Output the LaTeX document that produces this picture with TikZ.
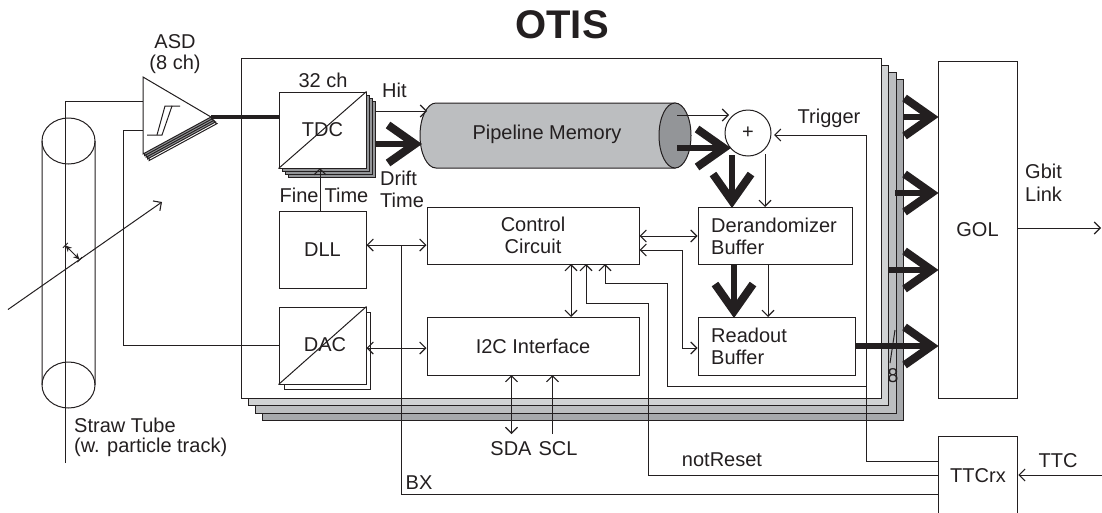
\documentclass[tikz,border=0pt]{standalone}
\usepackage{fontspec}
\setmainfont{Liberation Sans}
\usetikzlibrary{arrows.meta}
\definecolor{lineK}{HTML}{231F20}
\definecolor{layA}{HTML}{D1D3D4}
\definecolor{layB}{HTML}{BCBEC0}
\definecolor{layC}{HTML}{A7A9AC}
\definecolor{pipeG}{HTML}{BCBEC0}
\definecolor{pipeD}{HTML}{939598}
\tikzset{
  wire/.style={draw=lineK,line width=1pt},
  thin arr/.style={wire,-{Straight Barb[length=6pt,width=12pt,line width=1.1pt]}},
  both arr/.style={wire,{Straight Barb[length=6pt,width=12pt,line width=1.1pt]}-{Straight Barb[length=6pt,width=12pt,line width=1.1pt]}},
  bus/.style={draw=lineK,line width=6.5pt},
  bus arr/.style={bus,-{Straight Barb[length=27pt,width=38pt,line width=8pt,sep=-1pt]}},
  block/.style={draw=lineK,line width=1pt,fill=white,inner sep=0pt},
  txt/.style={text=lineK,font=\fontsize{20}{22}\selectfont},
  lab/.style={txt,inner sep=0pt},
  lay/.style={draw=lineK,line width=1pt}
}
\begin{document}
\begin{tikzpicture}[x=1pt,y=-1pt]
\useasboundingbox (0,0) rectangle (1102,512);
% board stack
\draw[lay,fill=layC] (262,79) rectangle (903,420);
\draw[lay,fill=layB] (255,72) rectangle (896,413);
\draw[lay,fill=layA] (248,65) rectangle (888,405.5);
\draw[lay,fill=white] (241,58) rectangle (881,398);
\node[font=\fontsize{40}{44}\bfseries\selectfont,text=lineK,inner sep=0pt] (title) at (562,25) {OTIS};
% straw tube
\draw[wire] (42,141) -- (42,385) arc[start angle=180,end angle=360,x radius=26.5pt,y radius=23pt] -- (95,141);
\draw[wire] (68.5,141) ellipse[x radius=26.5pt,y radius=23pt];
\draw[wire] (42,385) arc[start angle=180,end angle=0,x radius=26.5pt,y radius=23pt];
\coordinate (tt) at (65.5,101);
\coordinate (tb) at (65.5,463);
\coordinate (pa) at (8,309.5);
\coordinate (pb) at (162,202);
\draw[thin arr] (pa) -- (pb);
\coordinate (da) at (65,245);
\coordinate (db) at (80,260);
\draw[wire,{Bar[width=7pt]Stealth[length=6pt,width=6pt]}-{Stealth[length=6pt,width=6pt]Bar[width=7pt]}] (da) -- (db);
% ASD
\foreach \d/\c in {6/white,4.5/pipeD,3/pipeD,1.5/pipeD}{
  \draw[wire,fill=\c] (143+\d,154+\d*1.1) -- (211+\d,117+\d*1.1) -- (143+\d,77+\d) -- cycle;
}
\draw[wire,fill=white] (143,77) coordinate (asdtop) -- (211,117) coordinate (asdtip) -- (143,154) -- cycle;
\coordinate (asdi) at (143,101);
\coordinate (asdj) at (143,130);
\draw[wire] (147,135) -- (162,135) -- (172,106) -- (180,106);
\draw[wire] (157,135) -- (165,106) -- (172,106);
\node[lab] (asdl) at (175,42) {ASD};
\node[lab] (asdm) at (175,64) {(8 ch)};
\draw[wire] (tb) -- (tt) -- (asdi);
% TDC
\foreach \d/\c in {9/pipeD,6/pipeD,3/pipeD}{
  \draw[wire,fill=\c] (279+\d,92+\d) rectangle (366+\d,168+\d);
}
\node[block,minimum width=87pt,minimum height=76pt] (tdc) at (322.5,130) {};
\draw[wire] (tdc.south west) -- (tdc.north east);
\node[lab] at (tdc.center) {TDC};
\node[lab] (ch32) at (323,80) {32 ch};
\draw[line width=4.5pt,draw=lineK] (asdtip) -- (tdc.west |- asdtip);
% DAC
\draw[wire,fill=white] (284,312) rectangle (370.5,389);
\node[block,minimum width=87pt,minimum height=77pt] (dac) at (322.5,345.5) {};
\draw[wire] (dac.south west) -- (dac.north east);
\node[lab] at (325,345) {DAC};
\draw[wire] (asdj) -- (123,130) -- (123,345.5) -- (dac.west);
% DLL
\node[block,minimum width=87pt,minimum height=77pt,txt] (dll) at (322.5,250) {DLL};
\draw[thin arr] (320,211.5) -- (320,168);
% Pipeline
\path[draw=lineK,line width=1pt,fill=pipeG] (675,103) -- (436,103) arc[start angle=90,end angle=270,x radius=16pt,y radius=32.5pt] -- (675,168) -- cycle;
\draw[draw=lineK,line width=1pt,fill=pipeD] (675,135.5) ellipse[x radius=16pt,y radius=32.5pt];
\node[lab] (pipe) at (547,134) {Pipeline Memory};
\coordinate (pipel) at (421,144);
\node[draw=lineK,line width=1pt,fill=white,circle,minimum size=46pt,inner sep=0pt,txt] (add) at (748,133) {+};
% other blocks
\node[block,minimum width=212pt,minimum height=57pt,align=center,txt] (ctrl) at (533,235.5) {Control\\Circuit};
\node[block,minimum width=212pt,minimum height=58pt,txt] (i2c) at (533,346) {I2C Interface};
\node[block,minimum width=154pt,minimum height=57pt] (der) at (775,235.5) {};
\node[lab,anchor=west,align=left] at (711,236) {Derandomizer\\Buffer};
\node[block,minimum width=157pt,minimum height=58pt] (rd) at (776.5,346) {};
\node[lab,anchor=west,align=left] at (711,346) {Readout\\Buffer};
\node[block,minimum width=79pt,minimum height=337pt,txt] (gol) at (977.5,229.5) {GOL};
\node[block,minimum width=79.5pt,minimum height=80pt,txt] (ttc) at (978,476) {TTCrx};
% labels
\node[lab,anchor=west] (hit) at (382,90) {Hit};
\node[lab,anchor=west] (drift) at (380,178) {Drift};
\node[lab,anchor=west] (drift2) at (380,200) {Time};
\node[lab] (fine) at (324,195) {Fine\hspace{6pt}Time};
\node[lab] (trig) at (829,118) {Trigger};
\node[lab,anchor=west] (straw) at (74,425) {Straw Tube};
\node[lab,anchor=west] (straw2) at (74,447) {(w. particle track)};
\node[lab] (sda) at (511,449) {SDA};
\node[lab] (scl) at (558,449) {SCL};
\node[lab] (nr) at (722,460) {notReset};
\node[lab] (bx) at (419,483) {BX};
\node[lab] (ttcl) at (1058,461) {TTC};
\node[lab,anchor=west] (gb) at (1025,171) {Gbit};
\node[lab,anchor=west] (ln) at (1025,194) {Link};
\node[lab] (eight) at (893,376) {8};
% connectors
\draw[thin arr] (375,111) -- (427,111);
\draw[bus arr] (375,144) -- (pipel);
\draw[thin arr] (677,115) -- (729,115);
\draw[bus arr] (677,148) -- (730,148);
\draw[bus arr] (732,155) -- (732,207);
\draw[thin arr] (765,154) -- (765,207);
\draw[bus arr] (734,264) -- (734,317);
\draw[thin arr] (768,264) -- (768,317);
\draw[both arr] (dll.east |- 0,245) -- (ctrl.west |- 0,245);
\draw[wire] (401.7,245) -- (401.7,494) -- (ttc.west |- 0,494);
\draw[both arr] (dac.east |- 0,348) -- (i2c.west |- 0,348);
\draw[both arr] (ctrl.east |- 0,236) -- (der.west |- 0,236);
\draw[both arr] (ctrl.east |- 0,250) -- (682,250) -- (682,348) -- (rd.west |- 0,348);
\draw[both arr] (571,264) -- (571,317);
\draw[thin arr] (648,475) -- (648,303) -- (586,303) -- (586,264);
\draw[wire] (648,475) -- (ttc.west |- 0,475);
\draw[thin arr] (866,386) -- (667.5,386) -- (667.5,283) -- (605,283) -- (605,264);
\draw[thin arr] (866,461) -- (866,135) -- (774,135);
\draw[wire] (866,461) -- (ttc.west |- 0,461);
\draw[both arr] (511.5,434) -- (511.5,375);
\draw[thin arr] (552.5,434) -- (552.5,375);
\draw[thin arr] (1102,475) -- (ttc.east |- 0,475);
\draw[thin arr] (gol.east |- 0,228) -- (1101,228);
\draw[bus arr] (903,117) -- (gol.west |- 0,117);
\draw[bus arr] (895,193) -- (gol.west |- 0,193);
\draw[bus arr] (888,270) -- (gol.west |- 0,270);
\draw[bus arr] (rd.east |- 0,346) -- (gol.west |- 0,346);
\draw[wire] (890,363) -- (895,330);
\end{tikzpicture}
\end{document}
